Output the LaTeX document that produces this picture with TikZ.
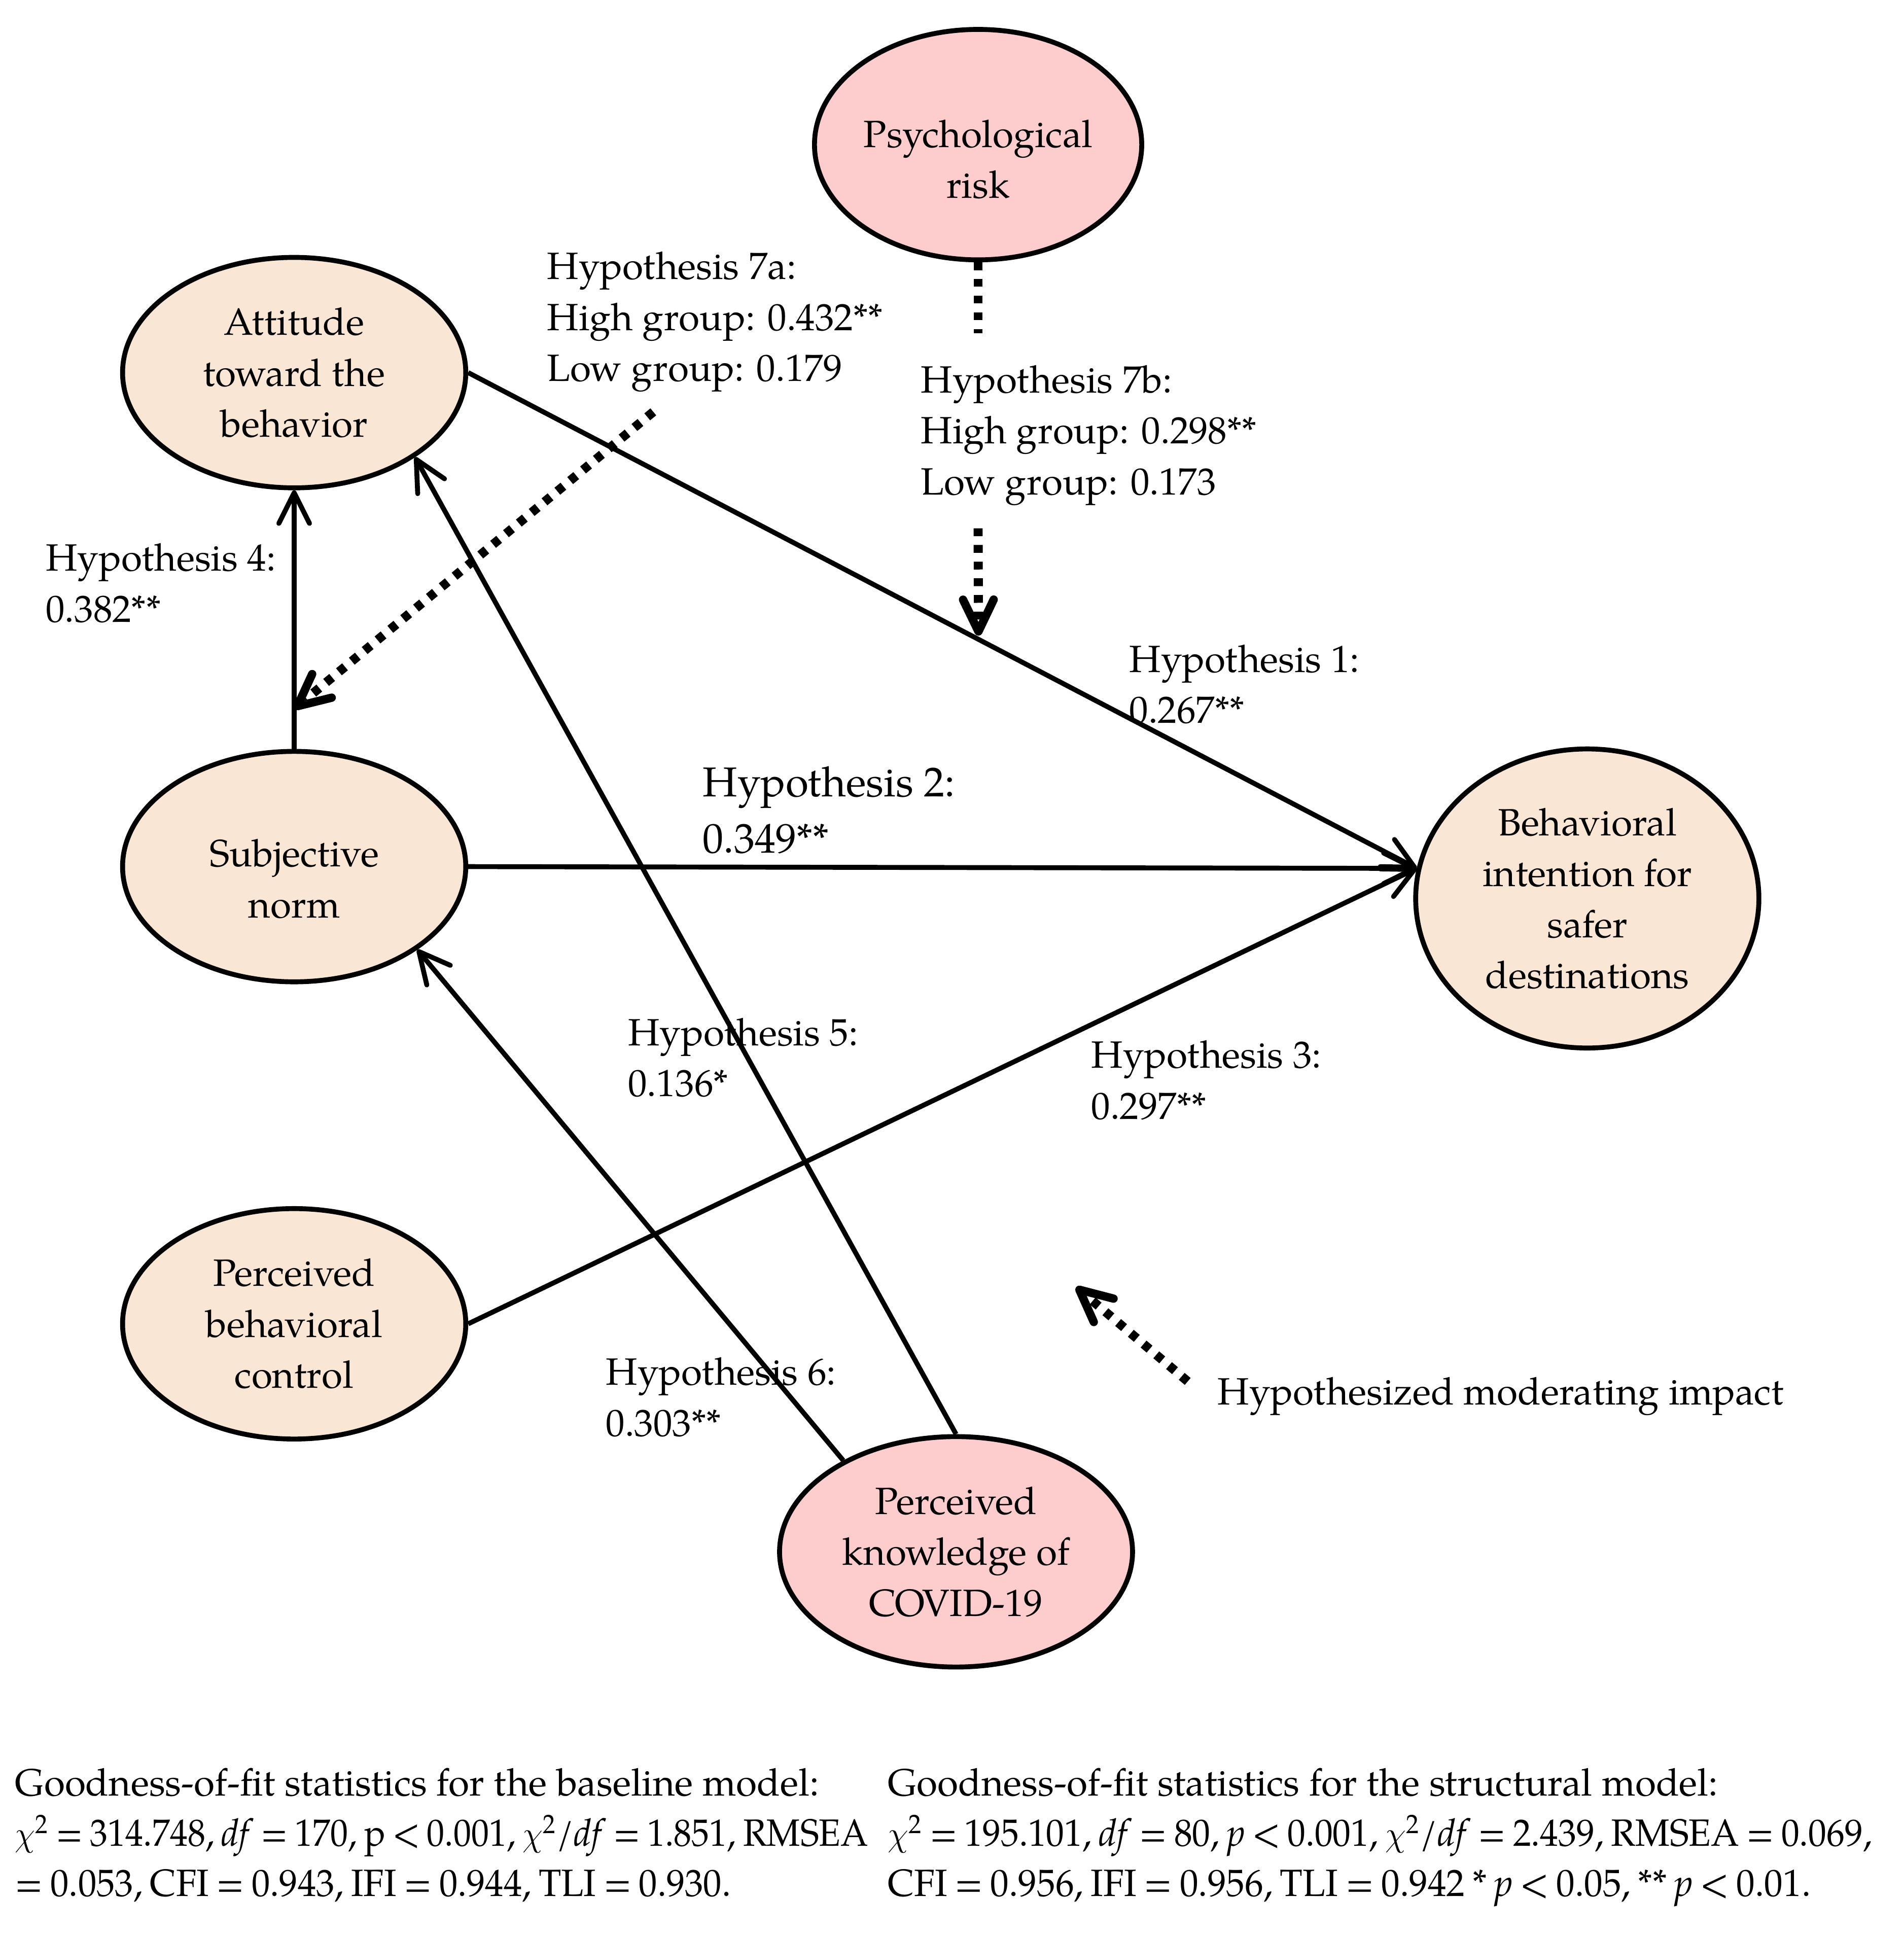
\documentclass[tikz,border=0pt]{standalone}
\usepackage{fontspec}
\usepackage{graphicx}
\setmainfont{texgyrepagella}[Extension=.otf, UprightFont=*-regular, ItalicFont=*-italic, BoldFont=*-bold, BoldItalicFont=*-bolditalic]
\usetikzlibrary{arrows.meta,calc,shapes.geometric}
\definecolor{ellTan}{HTML}{F9E6D4}
\definecolor{ellPink}{HTML}{FDCCCC}
\newcommand{\fitw}[2]{\resizebox{#1}{\height}{\spaceskip=0.2em #2}}
\tikzset{
  ell/.style={ellipse, draw=black, line width=2pt, inner sep=0pt},
  tanell/.style={ell, fill=ellTan, minimum width=140pt, minimum height=94pt},
  txt/.style={font=\fontsize{15.5}{20.8}\selectfont, align=center, inner sep=0pt},
  lab/.style={font=\fontsize{15.5}{20.8}\selectfont, align=left, anchor=base west, inner sep=0pt},
  biglab/.style={font=\fontsize{17}{23}\selectfont, align=left, anchor=base west, inner sep=0pt},
  solidarrow/.style={line width=2pt, -{Straight Barb[length=12.5pt,width=12.5pt,round]}},
  dotline/.style={line width=3.7pt, dash pattern=on 3.2pt off 3.6pt},
  dotarrow/.style={dotline, -{Straight Barb[length=13pt,width=12.5pt,line width=3.4pt,round]}},
}
\begin{document}
\begin{tikzpicture}[x=0.5pt,y=-0.5pt]
\useasboundingbox (0,0) rectangle (1553,1577);

% ellipses
\node[tanell, label={[txt]center:{Attitude\\toward the\\behavior}}] (Att) at (240,304) {};
\node[tanell, label={[txt,yshift=-5pt]center:{Subjective\\norm}}] (SN) at (240,707) {};
\node[tanell, label={[txt]center:{Perceived\\behavioral\\control}}] (PBC) at (240,1080) {};
\node[ell, fill=ellTan, minimum width=140pt, minimum height=122pt,
      label={[txt]center:{Behavioral\\intention for\\safer\\destinations}}] (BI) at (1295,733) {};
\node[ell, fill=ellPink, minimum width=144pt, minimum height=94pt,
      label={[txt]center:{Perceived\\knowledge of\\COVID-19}}] (PK) at (780,1266) {};
\node[ell, fill=ellPink, minimum width=133.5pt, minimum height=94pt,
      label={[txt,yshift=-6pt]center:{Psychological\\risk}}] (PR) at (798,118) {};

% solid paths
\draw[solidarrow] (Att.east) -- (BI.170);
\draw[solidarrow] (SN.east) -- (BI.170);
\draw[solidarrow] (PBC.east) -- (BI.170);
\draw[solidarrow] (SN.north) -- (Att.south);
\draw[solidarrow] (PK.141) -- (SN.-34.5);
\draw[solidarrow] (PK.north) -- (Att.-35.6);

% moderating (dotted) paths
\coordinate (t7a) at (533,336);
\coordinate (h7a) at ($(SN.north)!0.155!(Att.south)$);
\draw[dotarrow] (t7a) -- (h7a);
\coordinate (p7b1) at (798,272);
\coordinate (p7b2) at (798,431);
\coordinate (h7b) at ($(Att.east)!0.538!(BI.170)$);
\draw[dotline] (PR.south) -- (p7b1);
\draw[dotarrow, shorten >=1.5pt] (p7b2) -- (h7b);

% legend arrow
\coordinate (legT) at (969,1127);
\coordinate (legH) at (878,1050);
\draw[dotarrow] (legT) -- (legH);
\node[lab] (legL) at (993,1146) {Hypothesized moderating impact};

% hypothesis labels (anchored at the baseline of the last line)
\node[lab] (h7aL) at (446,311) {Hypothesis 7a:\\High group: 0.432**\\Low group: 0.179};
\node[lab] (h7bL) at (751,403.5) {Hypothesis 7b:\\High group: 0.298**\\Low group: 0.173};
\node[lab] (h4L) at (37,507.5) {Hypothesis 4:\\0.382**};
\node[lab] (h1L) at (921,590) {Hypothesis 1:\\0.267**};
\node[biglab] (h2L) at (573,696) {Hypothesis 2:\\0.349**};
\node[lab] (h5L) at (512,894.5) {Hypothesis 5:\\0.136*};
\node[lab] (h3L) at (890,913) {Hypothesis 3:\\0.297**};
\node[lab] (h6L) at (494,1171.5) {Hypothesis 6:\\0.303**};

% goodness-of-fit
\node[lab] (fitL1) at (12,1465) {Goodness-of-fit statistics for the baseline model:};
\node[lab] (fitL2) at (12,1506) {\fitw{348pt}{$\chi$\textsuperscript{2} = 314.748, \textit{df} = 170, p < 0.001, $\chi$\textsuperscript{2}/\textit{df} = 1.851, RMSEA}};
\node[lab] (fitL3) at (12,1547) {\fitw{292pt}{= 0.053, CFI = 0.943, IFI = 0.944, TLI = 0.930.}};
\node[lab] (fitR1) at (724,1465) {Goodness-of-fit statistics for the structural model:};
\node[lab] (fitR2) at (724,1506) {\fitw{401.5pt}{$\chi$\textsuperscript{2} = 195.101, \textit{df} = 80, \textit{p} < 0.001, $\chi$\textsuperscript{2}/\textit{df} = 2.439, RMSEA = 0.069,}};
\node[lab] (fitR3) at (724,1547) {\fitw{376.5pt}{CFI = 0.956, IFI = 0.956, TLI = 0.942 * \textit{p} < 0.05, ** \textit{p} < 0.01.}};
\end{tikzpicture}
\end{document}
